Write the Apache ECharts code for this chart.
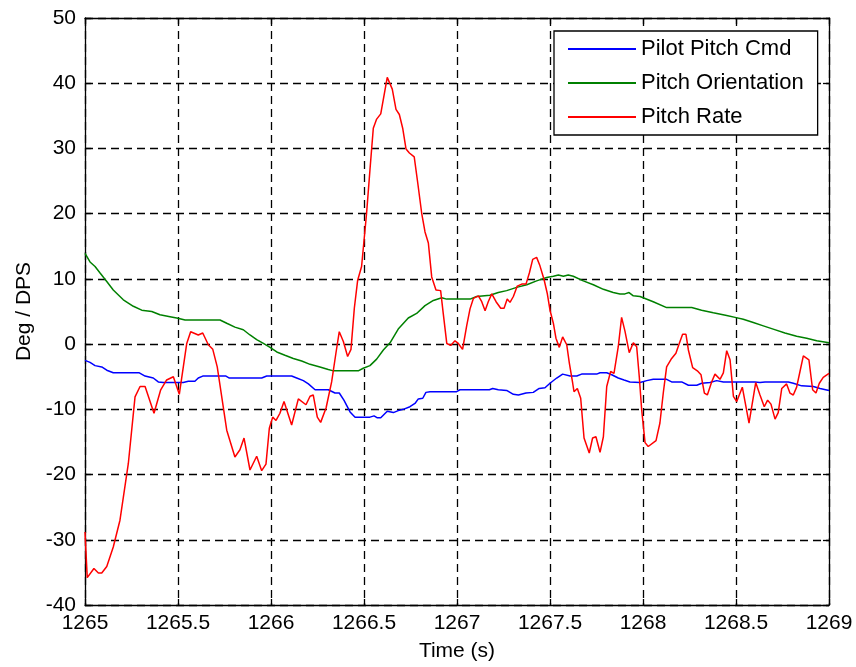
<!DOCTYPE html>
<html>
<head>
<meta charset="utf-8">
<script src="https://cdn.jsdelivr.net/npm/echarts@6/dist/echarts.min.js"></script>
<style>html,body{margin:0;padding:0;background:#fff;}#c{width:856px;height:667px;}</style>
</head>
<body>
<div id="c"></div>
<script>
// ---- Data ----
const seriesNames = ['Pilot Pitch Cmd', 'Pitch Orientation', 'Pitch Rate'];
const xTicks = [1265, 1265.5, 1266, 1266.5, 1267, 1267.5, 1268, 1268.5, 1269];
const yTicks = [-40, -30, -20, -10, 0, 10, 20, 30, 40, 50];

const cmdTime = [1265.000,1265.027,1265.054,1265.090,1265.117,1265.152,1265.292,1265.323,1265.367,1265.394,1265.421,1265.528,1265.555,1265.591,1265.609,1265.633,1265.758,1265.776,1265.950,1265.977,1266.111,1266.138,1266.174,1266.201,1266.237,1266.308,1266.344,1266.367,1266.392,1266.425,1266.452,1266.532,1266.554,1266.572,1266.590,1266.625,1266.658,1266.684,1266.711,1266.747,1266.774,1266.792,1266.816,1266.833,1266.855,1266.998,1267.016,1267.174,1267.192,1267.222,1267.267,1267.303,1267.330,1267.371,1267.410,1267.442,1267.473,1267.500,1267.536,1267.568,1267.608,1267.644,1267.670,1267.751,1267.769,1267.805,1267.832,1267.867,1267.898,1267.930,1267.984,1268.020,1268.055,1268.127,1268.154,1268.208,1268.244,1268.289,1268.316,1268.360,1268.396,1268.432,1268.602,1268.629,1268.656,1268.781,1268.808,1268.853,1268.916,1268.952,1269.000];
const cmdVals = [-2.5,-2.8,-3.3,-3.5,-4.0,-4.4,-4.4,-4.9,-5.2,-5.8,-5.9,-5.9,-5.7,-5.7,-5.2,-4.9,-4.9,-5.2,-5.2,-4.9,-4.9,-5.2,-5.6,-6.1,-7.0,-7.0,-7.5,-7.5,-8.6,-10.4,-11.2,-11.2,-11.0,-11.3,-11.3,-10.3,-10.5,-10.2,-10.0,-9.6,-9.1,-8.4,-8.3,-7.4,-7.3,-7.3,-7.0,-7.0,-6.8,-7.0,-7.1,-7.7,-7.8,-7.5,-7.4,-6.8,-6.7,-6.0,-5.2,-4.6,-4.9,-4.9,-4.6,-4.6,-4.4,-4.4,-4.7,-5.2,-5.5,-5.8,-5.9,-5.6,-5.4,-5.4,-5.8,-5.8,-6.3,-6.3,-6.0,-5.9,-5.6,-5.8,-5.8,-5.9,-5.8,-5.8,-6.0,-6.4,-6.5,-6.8,-7.1];

const orientTime = [1265.000,1265.027,1265.054,1265.081,1265.117,1265.152,1265.206,1265.260,1265.305,1265.359,1265.403,1265.457,1265.493,1265.538,1265.726,1265.762,1265.806,1265.851,1265.887,1265.923,1265.959,1265.995,1266.031,1266.075,1266.120,1266.165,1266.210,1266.263,1266.308,1266.335,1266.469,1266.496,1266.532,1266.568,1266.604,1266.640,1266.684,1266.738,1266.783,1266.828,1266.873,1266.918,1266.944,1267.070,1267.106,1267.177,1267.222,1267.267,1267.321,1267.375,1267.428,1267.482,1267.518,1267.545,1267.572,1267.598,1267.625,1267.679,1267.733,1267.787,1267.840,1267.876,1267.903,1267.925,1267.948,1267.984,1268.055,1268.127,1268.262,1268.315,1268.378,1268.450,1268.495,1268.539,1268.593,1268.647,1268.700,1268.763,1268.826,1268.880,1268.934,1269.000];
const orientVals = [13.9,12.6,11.9,10.9,9.6,8.3,6.8,5.8,5.2,5.0,4.5,4.2,4.0,3.7,3.7,3.2,2.6,2.2,1.4,0.7,0.1,-0.5,-1.2,-1.7,-2.2,-2.6,-3.1,-3.5,-3.9,-4.1,-4.1,-3.7,-3.3,-2.3,-0.9,0.2,2.3,4.0,4.7,5.9,6.7,7.1,6.9,6.9,7.3,7.5,7.9,8.2,8.7,9.1,9.7,10.2,10.4,10.6,10.4,10.6,10.4,9.7,9.1,8.4,7.9,7.7,7.7,7.9,7.4,7.3,6.5,5.6,5.6,5.2,4.8,4.4,4.1,3.8,3.3,2.8,2.3,1.7,1.2,0.9,0.5,0.2];

const rateTime = [1265.000,1265.012,1265.048,1265.072,1265.090,1265.117,1265.152,1265.188,1265.233,1265.269,1265.296,1265.323,1265.371,1265.407,1265.439,1265.475,1265.507,1265.547,1265.568,1265.609,1265.633,1265.663,1265.687,1265.711,1265.762,1265.806,1265.833,1265.855,1265.887,1265.923,1265.950,1265.973,1265.991,1266.009,1266.027,1266.048,1266.070,1266.111,1266.147,1266.188,1266.210,1266.227,1266.249,1266.267,1266.296,1266.326,1266.349,1266.367,1266.389,1266.412,1266.430,1266.448,1266.466,1266.487,1266.514,1266.532,1266.550,1266.568,1266.590,1266.625,1266.652,1266.672,1266.690,1266.708,1266.726,1266.744,1266.770,1266.789,1266.810,1266.828,1266.846,1266.864,1266.887,1266.912,1266.926,1266.945,1266.966,1266.989,1267.007,1267.030,1267.052,1267.070,1267.088,1267.115,1267.133,1267.151,1267.168,1267.187,1267.210,1267.235,1267.253,1267.270,1267.285,1267.303,1267.324,1267.348,1267.371,1267.389,1267.407,1267.428,1267.446,1267.468,1267.485,1267.500,1267.518,1267.532,1267.550,1267.568,1267.590,1267.604,1267.622,1267.629,1267.647,1267.665,1267.683,1267.711,1267.729,1267.747,1267.769,1267.787,1267.805,1267.826,1267.844,1267.867,1267.885,1267.903,1267.926,1267.948,1267.966,1267.980,1267.993,1268.011,1268.028,1268.070,1268.091,1268.109,1268.127,1268.154,1268.177,1268.195,1268.213,1268.231,1268.244,1268.267,1268.292,1268.312,1268.330,1268.346,1268.369,1268.387,1268.414,1268.432,1268.450,1268.468,1268.486,1268.504,1268.534,1268.570,1268.606,1268.629,1268.652,1268.670,1268.688,1268.710,1268.727,1268.746,1268.772,1268.790,1268.808,1268.826,1268.844,1268.862,1268.892,1268.912,1268.930,1268.948,1268.969,1269.000];
const rateVals = [-28.8,-35.8,-34.4,-35.1,-35.1,-34.1,-31.1,-27.0,-18.3,-8.1,-6.5,-6.5,-10.6,-7.0,-5.5,-5.0,-7.7,0.1,1.9,1.4,1.7,-0.1,-0.8,-3.5,-13.2,-17.3,-16.2,-14.4,-19.3,-17.2,-19.4,-18.4,-12.9,-11.2,-11.7,-10.6,-8.8,-12.4,-8.4,-9.3,-8.0,-7.8,-11.2,-12.0,-9.8,-5.8,-1.4,1.9,0.4,-1.9,-0.8,5.5,9.8,11.9,20.1,26.7,33.1,34.5,35.3,40.9,39.1,36.0,35.2,33.1,29.9,29.3,28.7,24.7,20.1,17.2,15.5,10.3,8.3,8.2,4.7,0.1,-0.2,0.5,0.1,-0.8,2.8,5.4,7.0,7.4,6.5,5.1,6.5,7.7,6.5,5.5,5.5,6.9,6.4,7.3,8.9,9.2,9.2,10.9,13.0,13.3,12.0,9.9,7.8,5.2,3.2,0.9,-0.5,1.1,-0.1,-2.9,-6.0,-7.3,-6.8,-8.3,-14.4,-16.7,-14.4,-14.2,-16.6,-14.2,-6.5,-4.2,-4.5,-0.4,4.1,2.0,-1.3,0.2,-0.4,-5.0,-10.1,-15.1,-15.7,-14.8,-12.1,-7.5,-3.5,-2.2,-1.4,0.1,1.5,1.5,-0.9,-3.6,-4.1,-4.7,-7.5,-7.8,-5.8,-4.6,-5.4,-4.4,-1.0,-2.4,-8.0,-8.8,-6.6,-12.1,-5.9,-7.8,-9.6,-8.6,-9.2,-11.5,-10.5,-6.8,-6.1,-7.5,-7.8,-6.6,-4.2,-1.8,-2.4,-7.0,-7.5,-6.0,-5.1,-4.5];

const pairs = (t, v) => t.map((x, i) => [x, v[i]]);

const FONT = "'Liberation Sans', Arial, Helvetica, sans-serif";
const chart = echarts.init(document.getElementById('c'), null, {renderer: 'canvas'});

const baseX = {
  type: 'value', min: xTicks[0], max: xTicks[xTicks.length - 1], interval: 0.5,
  axisLine: {show: true, onZero: false, lineStyle: {color: '#000', width: 1.3}},
  axisTick: {show: true, inside: true, length: 6, lineStyle: {color: '#000', width: 1.3}},
  splitLine: {show: false}
};
const baseY = {
  type: 'value', min: yTicks[0], max: yTicks[yTicks.length - 1], interval: 10,
  axisLine: {show: true, onZero: false, lineStyle: {color: '#000', width: 1.3}},
  axisTick: {show: true, inside: true, length: 6, lineStyle: {color: '#000', width: 1.3}},
  splitLine: {show: false}
};
const gridDash = {color: '#000', width: 1.3, type: [8, 5]};

chart.setOption({
  animation: false,
  backgroundColor: '#fff',
  textStyle: {fontFamily: FONT},
  grid: {left: 85, right: 27, top: 18, bottom: 62, containLabel: false},
  legend: {
    data: seriesNames,
    orient: 'vertical',
    left: 554, top: 31,
    padding: [7, 14, 7, 14],
    itemGap: 12,
    icon: 'rect',
    itemWidth: 68, itemHeight: 2,
    selectedMode: false,
    backgroundColor: '#fff',
    borderColor: '#000', borderWidth: 1.3, borderRadius: 0,
    textStyle: {fontFamily: FONT, fontSize: 22, lineHeight: 22, color: '#000'}
  },
  xAxis: [
    Object.assign({}, baseX, {
      position: 'bottom',
      name: 'Time (s)', nameLocation: 'middle', nameGap: 36,
      nameTextStyle: {fontFamily: FONT, fontSize: 21, color: '#000'},
      axisLabel: {show: true, margin: 8, fontFamily: FONT, fontSize: 21, color: '#000', formatter: v => String(v)},
      splitLine: {show: true, lineStyle: gridDash}
    }),
    Object.assign({}, baseX, {position: 'top', axisLabel: {show: false}})
  ],
  yAxis: [
    Object.assign({}, baseY, {
      position: 'left',
      name: 'Deg / DPS', nameLocation: 'middle', nameGap: 49,
      nameTextStyle: {fontFamily: FONT, fontSize: 21, color: '#000'},
      axisLabel: {show: true, margin: 9, fontFamily: FONT, fontSize: 21, color: '#000', formatter: v => String(v)},
      splitLine: {show: true, lineStyle: gridDash}
    }),
    Object.assign({}, baseY, {position: 'right', axisLabel: {show: false}})
  ],
  series: [
    {name: seriesNames[0], type: 'line', xAxisIndex: 0, yAxisIndex: 0, symbol: 'none', data: pairs(cmdTime, cmdVals),
     lineStyle: {color: '#0000ff', width: 1.5}, itemStyle: {color: '#0000ff'}, z: 3},
    {name: seriesNames[1], type: 'line', xAxisIndex: 0, yAxisIndex: 0, symbol: 'none', data: pairs(orientTime, orientVals),
     lineStyle: {color: '#008000', width: 1.5}, itemStyle: {color: '#008000'}, z: 4},
    {name: seriesNames[2], type: 'line', xAxisIndex: 0, yAxisIndex: 0, symbol: 'none', data: pairs(rateTime, rateVals),
     lineStyle: {color: '#ff0000', width: 1.5}, itemStyle: {color: '#ff0000'}, z: 5}
  ]
});
</script>
</body>
</html>
